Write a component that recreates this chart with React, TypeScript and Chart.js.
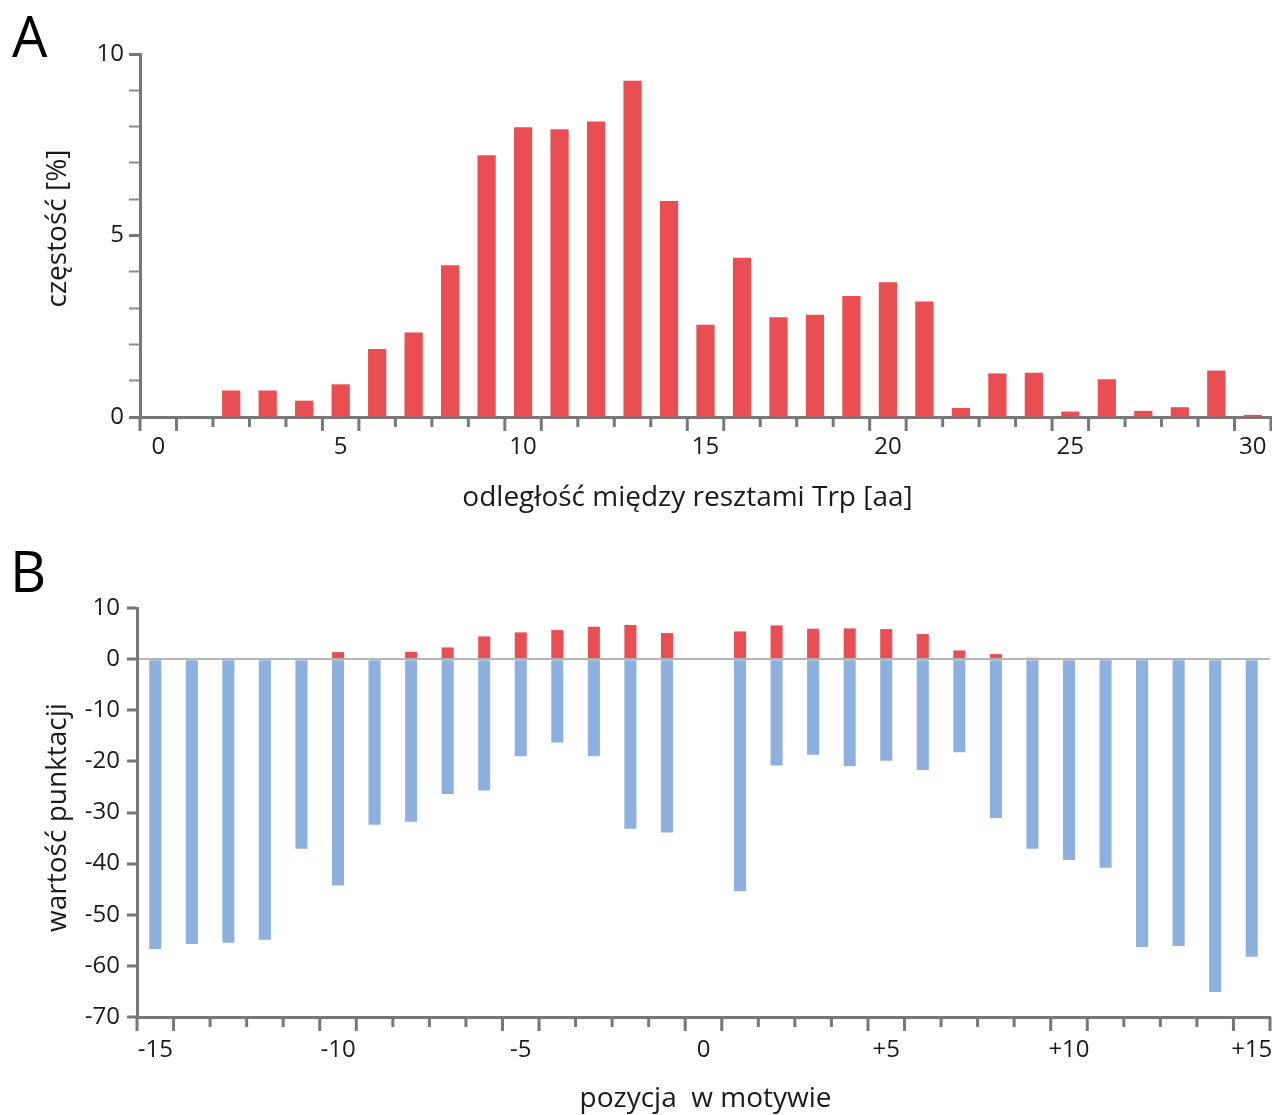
import React, { useEffect, useRef } from "react";
import { Chart, registerables } from "chart.js";

Chart.register(...registerables);

// ---- Panel A data ----
const distances = [
  "0", "1", "2", "3", "4", "5", "6", "7", "8", "9", "10",
  "11", "12", "13", "14", "15", "16", "17", "18", "19", "20",
  "21", "22", "23", "24", "25", "26", "27", "28", "29", "30",
];
const frequency = [
  null, null, 0.73, 0.73, 0.45, 0.9, 1.87, 2.33, 4.18, 7.21, 7.98,
  7.93, 8.14, 9.26, 5.95, 2.54, 4.39, 2.75, 2.82, 3.33, 3.71,
  3.18, 0.25, 1.2, 1.22, 0.15, 1.04, 0.17, 0.27, 1.28, 0.06,
];

// ---- Panel B data ----
const positions = [
  "-15", "-14", "-13", "-12", "-11", "-10", "-9", "-8", "-7", "-6", "-5",
  "-4", "-3", "-2", "-1", "0", "1", "2", "3", "4", "5",
  "6", "7", "8", "9", "10", "11", "12", "13", "14", "15",
];
const positiveScores = [
  null, null, null, null, null, 1.37, 0.2, 1.44, 2.29, 4.44, 5.23,
  5.69, 6.34, 6.67, 5.1, null, 5.42, 6.6, 5.95, 6.01, 5.88,
  4.9, 1.7, 0.98, 0.26, null, null, null, null, null, null,
];
const negativeScores = [
  -56.7, -55.7, -55.5, -54.9, -37.1, -44.3, -32.4, -31.8, -26.4, -25.7, -19.0,
  -16.3, -19.0, -33.2, -33.9, null, -45.4, -20.8, -18.7, -20.9, -19.9,
  -21.7, -18.2, -31.1, -37.1, -39.3, -40.8, -56.3, -56.1, -65.1, -58.2,
];

const titleA_x = "odległość między resztami Trp [aa]";
const titleA_y = "częstość [%]";
const titleB_x = "pozycja  w motywie";
const titleB_y = "wartość punktacji";

const RED = "#E84E52";
const BLUE = "#8DB0DE";
const AXIS = "#777777";
const TEXT = "#1a1a1a";
const FONT = '"Open Sans", "Noto Sans", sans-serif';
const TICK_SIZE = 24;
const TITLE_SIZE = 28;

Chart.defaults.font.family = FONT;
Chart.defaults.color = TEXT;

const isMajorLabel = (labels: string[], i: number) =>
  i >= 0 && i < labels.length && Number(labels[i]) % 5 === 0;

// Draw x tick marks at category boundaries, long next to labelled categories
const xTickPlugin = {
  id: "xBoundaryTicks",
  afterDraw(chart: any) {
    const s = chart.scales.x;
    const labels = chart.data.labels as string[];
    const n = labels.length;
    const p0 = s.getPixelForValue(0);
    const step = s.getPixelForValue(1) - p0;
    const ctx = chart.ctx;
    ctx.save();
    ctx.strokeStyle = AXIS;
    ctx.lineWidth = 3;
    for (let i = 0; i <= n; i++) {
      const px = p0 + (i - 0.5) * step;
      const major = isMajorLabel(labels, i - 1) || isMajorLabel(labels, i);
      const len = major ? 14 : 10;
      ctx.beginPath();
      ctx.moveTo(px, s.top);
      ctx.lineTo(px, s.top + len);
      ctx.stroke();
    }
    ctx.restore();
  },
};

// Axis titles drawn relative to the scales, with small offsets as in the source
const makeTitlePlugin = (
  id: string,
  xText: string | null,
  xShift: number,
  xFromBottom: number,
  yText: string,
  yShift: number
) => ({
  id,
  afterDraw(chart: any) {
    const ctx = chart.ctx;
    const sx = chart.scales.x;
    const sy = chart.scales.y;
    ctx.save();
    ctx.font = `${TITLE_SIZE}px ${FONT}`;
    ctx.fillStyle = TEXT;
    ctx.textAlign = "center";
    ctx.textBaseline = "middle";
    if (xText) {
      ctx.fillText(xText, (sx.left + sx.right) / 2 + xShift, sx.bottom - xFromBottom);
    }
    ctx.translate(sy.left + 58, (sy.top + sy.bottom) / 2 + yShift);
    ctx.rotate(-Math.PI / 2);
    ctx.fillText(yText, 0, 0);
    ctx.restore();
  },
});

const noSidePadding = (s: any) => {
  s.paddingLeft = 0;
  s.paddingRight = 0;
};

export default function App() {
  const refA = useRef<HTMLCanvasElement>(null);
  const refB = useRef<HTMLCanvasElement>(null);

  useEffect(() => {
    const chartA = new Chart(refA.current as HTMLCanvasElement, {
      type: "bar",
      data: {
        labels: distances,
        datasets: [
          {
            data: frequency as any,
            backgroundColor: RED,
            borderWidth: 0,
            barPercentage: 0.5,
            categoryPercentage: 1,
          },
        ],
      },
      options: {
        responsive: false,
        animation: false,
        events: [],
        layout: { padding: { top: 54, right: 1, left: 0, bottom: 0 } },
        plugins: { legend: { display: false }, tooltip: { enabled: false } },
        scales: {
          x: {
            type: "category",
            offset: true,
            grid: { display: false, drawTicks: false },
            border: { display: true, color: AXIS, width: 3 },
            ticks: {
              autoSkip: false,
              maxRotation: 0,
              padding: 16,
              font: { size: TICK_SIZE },
              color: TEXT,
              callback: (_v: any, i: number) =>
                Number(distances[i]) % 5 === 0 ? distances[i] : "",
            },
            title: { display: false },
            afterFit: (s: any) => {
              s.height = 123;
              noSidePadding(s);
            },
          },
          y: {
            min: 0,
            max: 10,
            grid: {
              drawOnChartArea: false,
              drawTicks: true,
              tickLength: 11,
              tickColor: (c: any) => (c.tick && c.tick.value % 5 === 0 ? AXIS : "#8a8a8a"),
              tickWidth: (c: any) => (c.tick && c.tick.value % 5 === 0 ? 3 : 2),
            },
            border: { display: true, color: AXIS, width: 3 },
            ticks: {
              stepSize: 1,
              padding: 5,
              font: { size: TICK_SIZE },
              color: TEXT,
              callback: (v: any) => (v % 5 === 0 ? String(v) : ""),
            },
            title: { display: false },
            afterFit: (s: any) => {
              s.width = 140;
            },
          },
        },
      },
      plugins: [xTickPlugin, makeTitlePlugin("titlesA", titleA_x, -18, 42, titleA_y, -7)],
    } as any);

    const chartB = new Chart(refB.current as HTMLCanvasElement, {
      type: "bar",
      data: {
        labels: positions,
        datasets: [
          {
            data: positiveScores as any,
            backgroundColor: RED,
            borderWidth: 0,
            barPercentage: 0.33,
            categoryPercentage: 1,
          },
          {
            data: negativeScores as any,
            backgroundColor: BLUE,
            borderWidth: 0,
            barPercentage: 0.33,
            categoryPercentage: 1,
          },
        ],
      },
      options: {
        responsive: false,
        animation: false,
        events: [],
        layout: { padding: { top: 68, right: 2, left: 0, bottom: 0 } },
        plugins: { legend: { display: false }, tooltip: { enabled: false } },
        scales: {
          x: {
            type: "category",
            stacked: true,
            offset: true,
            grid: { display: false, drawTicks: false },
            border: { display: true, color: AXIS, width: 3 },
            ticks: {
              autoSkip: false,
              maxRotation: 0,
              padding: 19,
              font: { size: TICK_SIZE },
              color: TEXT,
              callback: (_v: any, i: number) => {
                const n = Number(positions[i]);
                if (n % 5 !== 0) return "";
                return n > 0 ? "+" + n : String(n);
              },
            },
            title: { display: false },
            afterFit: (s: any) => {
              s.height = 98;
              noSidePadding(s);
            },
          },
          y: {
            stacked: true,
            min: -70,
            max: 10,
            z: 1,
            grid: {
              drawOnChartArea: true,
              drawTicks: true,
              tickLength: 10,
              color: (c: any) => (c.tick && c.tick.value === 0 ? "#b5b5b5" : "rgba(0,0,0,0)"),
              lineWidth: 2,
              tickColor: AXIS,
              tickWidth: 3,
            },
            border: { display: true, color: AXIS, width: 3 },
            ticks: {
              stepSize: 10,
              padding: 7,
              font: { size: TICK_SIZE },
              color: TEXT,
            },
            title: { display: false },
            afterFit: (s: any) => {
              s.width = 137;
            },
          },
        },
      },
      plugins: [xTickPlugin, makeTitlePlugin("titlesB", titleB_x, 2, 16, titleB_y, 5)],
    } as any);

    return () => {
      chartA.destroy();
      chartB.destroy();
    };
  }, []);

  return (
    <div
      style={{
        position: "absolute",
        left: 0,
        top: 0,
        width: 1272,
        height: 1115,
        background: "#ffffff",
        fontFamily: FONT,
        overflow: "hidden",
      }}
    >
      <canvas ref={refA} width={1272} height={540} style={{ position: "absolute", left: 0, top: 0 }} />
      <canvas ref={refB} width={1272} height={575} style={{ position: "absolute", left: 0, top: 540 }} />
      <div style={{ position: "absolute", left: 12, top: 7, fontSize: 56, lineHeight: "56px", color: "#000" }}>A</div>
      <div style={{ position: "absolute", left: 10, top: 542, fontSize: 56, lineHeight: "56px", color: "#000" }}>B</div>
    </div>
  );
}
